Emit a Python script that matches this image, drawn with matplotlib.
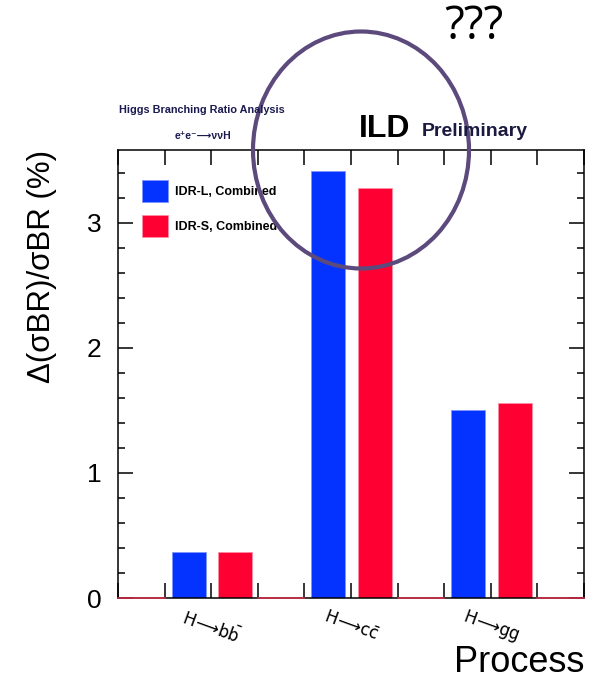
import numpy as np
import matplotlib
matplotlib.use('Agg')
import matplotlib.pyplot as plt
from matplotlib.patches import Ellipse
from matplotlib.ticker import MultipleLocator
import matplotlib.transforms as mtransforms

# values
processes = [r'$\mathrm{H}\!\longrightarrow\!\mathrm{b}\bar{\mathrm{b}}$',
             r'$\mathrm{H}\!\longrightarrow\!\mathrm{c}\bar{\mathrm{c}}$',
             r'$\mathrm{H}\!\longrightarrow\!\mathrm{gg}$']
idr_l = [0.37, 3.41, 1.50]
idr_s = [0.37, 3.28, 1.56]
series_names = ['IDR-L, Combined', 'IDR-S, Combined']

plt.rcParams['font.family'] = ['Liberation Sans', 'DejaVu Sans']
plt.rcParams['mathtext.fontset'] = 'dejavusans'

W, H = 594, 680
fig = plt.figure(figsize=(W / 100, H / 100), dpi=100)
ax = fig.add_axes([118 / W, 1 - 598 / H, (584 - 118) / W, (598 - 150) / H])

blue = '#0433ff'
red = '#ff0033'

# three bins per process plus a trailing empty bin; bars fill part of each bin
n = len(processes)
pos = np.arange(n) * 3
ax.bar(pos + 1 + 0.15, idr_l, width=0.73, align='edge', color=blue,
       edgecolor='#7f95ff', linewidth=0.6, label=series_names[0])
ax.bar(pos + 2 + 0.15, idr_s, width=0.73, align='edge', color=red,
       edgecolor='#ff8ea6', linewidth=0.6, label=series_names[1])
# red outline of the empty bins at zero
for b in list(pos) + [3 * n]:
    ax.plot([b, b + 1], [0, 0], color='#d0304a', lw=1.2, zorder=3, clip_on=False)

ax.set_xlim(0, 3 * n + 1)
ax.set_ylim(0, 3.58)

ax.xaxis.set_major_locator(MultipleLocator(1))
ax.xaxis.set_ticklabels([])
ax.yaxis.set_major_locator(MultipleLocator(1))
ax.yaxis.set_minor_locator(MultipleLocator(0.2))
ax.tick_params(axis='both', which='major', direction='in', length=10.5, width=1.1,
               top=True, right=True)
ax.tick_params(axis='y', which='minor', direction='in', length=5, width=1.1, right=True)
ax.tick_params(axis='y', labelsize=19, pad=12)
for s in ax.spines.values():
    s.set_linewidth(1.1)

# rotated process labels under the blue/red bin boundary
trans = mtransforms.blended_transform_factory(ax.transData, ax.transAxes)
for i, name in enumerate(processes):
    ax.text(pos[i] + 2, -0.062, name, transform=trans, rotation=-20,
            ha='center', va='center', fontsize=12, rotation_mode='anchor')

ax.set_ylabel('Δ(σBR)/σBR (%)', fontsize=22.5, loc='top')
ax.yaxis.set_label_coords(-0.131, 1.0)
ax.set_xlabel('Process', fontsize=26, loc='right')
ax.xaxis.set_label_coords(1.0, -0.106)

leg = ax.legend(loc='upper left', bbox_to_anchor=(24 / 466, 1 - 30 / 448),
                frameon=False, borderpad=0, borderaxespad=0,
                handlelength=2.1, handleheight=2.3, labelspacing=1.05,
                handletextpad=0.55, prop={'size': 9, 'weight': 'bold'})

fig.text(202 / W, 1 - 110 / H, 'Higgs Branching Ratio Analysis', fontsize=7.8,
         ha='center', va='center', color='#1a1a50', weight='bold')
fig.text(203 / W, 1 - 136 / H, 'e⁺e⁻⟶ννH', fontsize=7.5,
         ha='center', va='center', color='#1a1a50', weight='bold')
fig.text(359 / W, 1 - 129 / H, 'ILD', fontsize=23, weight='bold',
         ha='left', va='center')
fig.text(422 / W, 1 - 132 / H, 'Preliminary', fontsize=14, weight='bold',
         ha='left', va='center', color='#1a1a40')
fig.text(474 / W, 1 - 27 / H, '???', fontsize=33, family='Open Sans',
         ha='center', va='center')

fig.add_artist(Ellipse((361 / W, 1 - 150 / H), 216 / W, 237 / H,
                       transform=fig.transFigure, fill=False,
                       edgecolor='#5c4a7d', lw=3))

fig.savefig('out.png', dpi=100)
